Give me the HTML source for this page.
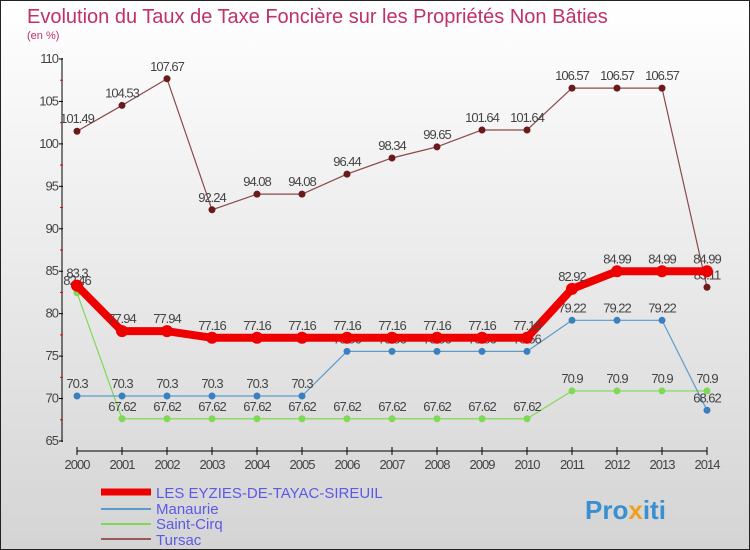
<!DOCTYPE html>
<html><head><meta charset="utf-8"><style>
body{margin:0}
#wrap{width:750px;height:550px;position:relative;box-sizing:border-box;border:1px solid #222;background:linear-gradient(#fff,#d4d4d4);font-family:"Liberation Sans",sans-serif;overflow:hidden}
</style></head><body>
<div id="wrap">
<svg id="c" width="750" height="550" style="position:absolute;left:0;top:0">
<text x="26" y="22" font-size="20" fill="#c0306a" font-weight="300">Evolution du Taux de Taxe Foncière sur les Propriétés Non Bâties</text>
<text x="26" y="38" font-size="11" fill="#c0306a">(en %)</text>
<g id="axes"></g><g id="series"></g>
<g>
<line x1="100" y1="491" x2="150" y2="491" stroke="#e00" stroke-width="7"/>
<text x="155" y="497" font-size="15" fill="#5a5ae8">LES EYZIES-DE-TAYAC-SIREUIL</text>
<line x1="100" y1="508" x2="150" y2="508" stroke="#5b9bcc" stroke-width="2"/>
<text x="155" y="513" font-size="15" fill="#5a5ae8">Manaurie</text>
<line x1="100" y1="523" x2="150" y2="523" stroke="#7ed957" stroke-width="2"/>
<text x="155" y="528" font-size="15" fill="#5a5ae8">Saint-Cirq</text>
<line x1="100" y1="538" x2="150" y2="538" stroke="#9a5a5a" stroke-width="2"/>
<text x="155" y="544" font-size="15" fill="#5a5ae8">Tursac</text>
</g>
<text x="584" y="518" font-size="26" font-weight="bold" fill="#3a8fd0">Pro<tspan fill="#f0a020">x</tspan>iti</text>
</svg>
</div>
<script>
const years=[2000,2001,2002,2003,2004,2005,2006,2007,2008,2009,2010,2011,2012,2013,2014];
const yTicks=[65,70,75,80,85,90,95,100,105,110];
const eyzies=[83.3,77.94,77.94,77.16,77.16,77.16,77.16,77.16,77.16,77.16,77.16,82.92,84.99,84.99,84.99];
const manaurie=[70.3,70.3,70.3,70.3,70.3,70.3,75.56,75.56,75.56,75.56,75.56,79.22,79.22,79.22,68.62];
const saintCirq=[82.46,67.62,67.62,67.62,67.62,67.62,67.62,67.62,67.62,67.62,67.62,70.9,70.9,70.9,70.9];
const tursac=[101.49,104.53,107.67,92.24,94.08,94.08,96.44,98.34,99.65,101.64,101.64,106.57,106.57,106.57,83.11];
const NS="http://www.w3.org/2000/svg";
const xs=i=>76+45*i, ys=v=>440-(v-65)*(382/45);
function mk(t,a,p){const e=document.createElementNS(NS,t);for(const k in a)e.setAttribute(k,a[k]);p.appendChild(e);return e;}
const ax=document.getElementById('axes'), sg=document.getElementById('series');
let yl=mk('line',{x1:61,y1:57,x2:61,y2:441,stroke:'#000'},ax);


yTicks.forEach((v,k)=>{const y=ys(v);
 mk('line',{x1:58,y1:y,x2:62,y2:y,stroke:'#000'},ax);
 if(k<yTicks.length-1) mk('line',{x1:59,y1:ys(v+2.5),x2:62,y2:ys(v+2.5),stroke:'#e00'},ax);
 const t=mk('text',{x:57,y:y+4,'font-size':13,fill:'#444','text-anchor':'end','letter-spacing':'-1'},ax);t.textContent=v;
 
 });
let xl=mk('line',{x1:76,y1:450,x2:706,y2:450,stroke:'#000'},ax);


years.forEach((yr,i)=>{const x=xs(i);mk('line',{x1:x,y1:446,x2:x,y2:454,stroke:'#000'},ax);
 const t=mk('text',{x:x,y:468,'font-size':13,fill:'#444','text-anchor':'middle','letter-spacing':'-1'},ax);t.textContent=yr;
 
 });
function series(vals,color,w,r,name,dotColor){
 const g=mk('g',{},sg);
 
 
 mk('polyline',{points:vals.map((v,i)=>xs(i)+','+ys(v)).join(' '),fill:'none',stroke:color,'stroke-width':w,'stroke-linejoin':'round'},g);
 vals.forEach((v,i)=>{const c=mk('circle',{cx:xs(i),cy:ys(v),r:r,fill:dotColor},g);
  
  
  const t=mk('text',{x:xs(i),y:ys(v)-8,'font-size':13,fill:'#444','text-anchor':'middle','letter-spacing':'-1'},g);t.textContent=v;
  
  });
}
series(tursac,'#8a4a4a',1.2,3.5,'series-tursac','#6a1a1a');
series(saintCirq,'#7ed957',1.2,3.5,'series-saint-cirq','#7ed957');
series(manaurie,'#5b9bcc',1.2,3.5,'series-manaurie','#3a80c0');
series(eyzies,'#e00',8,6,'series-eyzies','#e00');
</script>
</body></html>
